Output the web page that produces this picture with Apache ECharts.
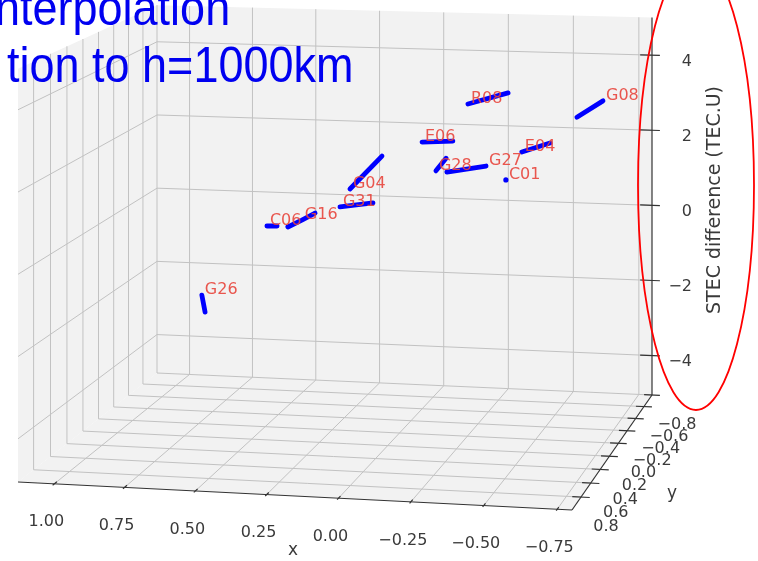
<!DOCTYPE html>
<html>
<head>
<meta charset="utf-8">
<title>STEC difference</title>
<script src="https://cdn.jsdelivr.net/npm/echarts@6/dist/echarts.min.js"></script>
<style>
  html, body { margin: 0; padding: 0; background: #fff; }
  #main { width: 758px; height: 561px; }
</style>
</head>
<body>
<div id="main"></div>
<script>
// limits of the 3d box
var xLim = [-0.8, 1.13];
var yLim = [-0.8, 0.98];
var zLim = [-5.05, 5.0];

// ticks and their labels
var xTicks = [1.0, 0.75, 0.5, 0.25, 0, -0.25, -0.5, -0.75];
var xTickLabels = ['1.00', '0.75', '0.50', '0.25', '0.00', '−0.25', '−0.50', '−0.75'];
var yTicks = [-0.8, -0.6, -0.4, -0.2, 0, 0.2, 0.4, 0.6, 0.8];
var yTickLabels = ['−0.8', '−0.6', '−0.4', '−0.2', '0.0', '0.2', '0.4', '0.6', '0.8'];
var zTicks = [-4, -2, 0, 2, 4];
var zTickLabels = ['−4', '−2', '0', '2', '4'];

// satellite tracks, points are [x, y, STEC difference]
var satNames = ['G08', 'R08', 'E06', 'E04', 'G28', 'G27', 'C01', 'G04', 'G31', 'C06', 'G16', 'G26'];
var satTracks = [
  [[-0.759, 0.09, 3.69], [-0.665, 0.09, 3.26]],
  [[-0.270, 0.09, 3.51], [-0.416, 0.09, 3.82]],
  [[-0.102, 0.09, 2.51], [-0.215, 0.09, 2.56]],
  [[-0.466, 0.09, 2.34], [-0.568, 0.09, 2.59]],
  [[-0.153, 0.09, 1.79], [-0.190, 0.09, 2.12]],
  [[-0.336, 0.09, 1.955], [-0.193, 0.09, 1.77]],
  [[-0.408, 0.09, 1.62]],
  [[0.163, 0.09, 1.255], [0.045, 0.09, 2.12]],
  [[0.200, 0.09, 0.79], [0.078, 0.09, 0.92]],
  [[0.471, 0.09, 0.235], [0.433, 0.09, 0.245]],
  [[0.393, 0.09, 0.23], [0.341, 0.09, 0.42], [0.292, 0.09, 0.61]],
  [[0.714, 0.09, -1.60], [0.702, 0.09, -2.03]]
];
// which point of each track carries the name
var satLabelAt = [0, 0, 0, 0, 0, 0, 0, 0, 0, 0, 1, 0];

// camera: where the floor corners (xmax,ymin) (xmin,ymin) (xmin,ymax) (xmax,ymax) land in the view
var floorCorners = [[157, 373], [652, 395], [572, 510], [18, 482]];
var zScale = 36.6;

// perspective map of the unit square onto the floor quad
function squareToQuad(q) {
  var x0 = q[0][0], y0 = q[0][1], x1 = q[1][0], y1 = q[1][1];
  var x2 = q[2][0], y2 = q[2][1], x3 = q[3][0], y3 = q[3][1];
  var dx1 = x1 - x2, dx2 = x3 - x2, dx3 = x0 - x1 + x2 - x3;
  var dy1 = y1 - y2, dy2 = y3 - y2, dy3 = y0 - y1 + y2 - y3;
  var det = dx1 * dy2 - dx2 * dy1;
  var g = (dx3 * dy2 - dx2 * dy3) / det;
  var h = (dx1 * dy3 - dx3 * dy1) / det;
  return { a: x1 - x0 + g * x1, b: x3 - x0 + h * x3, c: x0,
           d: y1 - y0 + g * y1, e: y3 - y0 + h * y3, f: y0, g: g, h: h };
}
var H = squareToQuad(floorCorners);

function proj(p) {
  var u = (xLim[1] - p[0]) / (xLim[1] - xLim[0]);
  var v = (p[1] - yLim[0]) / (yLim[1] - yLim[0]);
  var w = H.g * u + H.h * v + 1;
  return [(H.a * u + H.b * v + H.c) / w,
          (H.d * u + H.e * v + H.f - zScale * (p[2] - zLim[0])) / w];
}

var x0 = xLim[0], x1 = xLim[1], y0 = yLim[0], y1 = yLim[1], z0 = zLim[0], z1 = zLim[1];

// panes: floor, back wall, side wall
var panes = [
  [[x1, y0, z0], [x0, y0, z0], [x0, y1, z0], [x1, y1, z0]],
  [[x1, y0, z0], [x0, y0, z0], [x0, y0, z1], [x1, y0, z1]],
  [[x1, y0, z0], [x1, y1, z0], [x1, y1, z1], [x1, y0, z1]]
];

// grid lines on the panes
var gridSegs = [];
xTicks.forEach(function (t) {
  gridSegs.push([[t, y0, z0], [t, y1, z0]]);
  gridSegs.push([[t, y0, z0], [t, y0, z1]]);
});
yTicks.forEach(function (t) {
  gridSegs.push([[x0, t, z0], [x1, t, z0]]);
  gridSegs.push([[x1, t, z0], [x1, t, z1]]);
});
zTicks.forEach(function (t) {
  gridSegs.push([[x0, y0, t], [x1, y0, t]]);
  gridSegs.push([[x1, y0, t], [x1, y1, t]]);
});

// axis lines and tick marks
var axisSegs = [
  [[x1, y1, z0], [x0, y1, z0]],
  [[x0, y0, z0], [x0, y1, z0]],
  [[x0, y0, z0], [x0, y0, z1]]
];
xTicks.forEach(function (t) { axisSegs.push([[t, y1 - 0.03, z0], [t, y1 + 0.02, z0]]); });
yTicks.forEach(function (t) { axisSegs.push([[x0 + 0.03, t, z0], [x0 - 0.03, t, z0]]); });
zTicks.forEach(function (t) { axisSegs.push([[x0 + 0.045, y0, t], [x0 - 0.03, y0, t]]); });

// tick label texts with their anchor and shift
var tickTexts = [];
xTicks.forEach(function (t, i) {
  tickTexts.push({ p: [t, y1, z0], dx: -8, dy: 38.5, text: xTickLabels[i], align: 'center' });
});
yTicks.forEach(function (t, i) {
  tickTexts.push({ p: [x0, t, z0], dx: 25, dy: 30, text: yTickLabels[i], align: 'center' });
});
zTicks.forEach(function (t, i) {
  tickTexts.push({ p: [x0, y0, t], dx: 40, dy: 6.7, text: zTickLabels[i], align: 'right' });
});

function idx(arr) { return arr.map(function (d, i) { return [i, 0]; }); }

var chart = echarts.init(document.getElementById('main'));

var option = {
  animation: false,
  backgroundColor: '#fff',
  grid: { left: 0, right: 0, top: 0, bottom: 0 },
  xAxis: { type: 'value', min: 0, max: 758, show: false },
  yAxis: { type: 'value', min: 0, max: 561, inverse: true, show: false },
  series: [
    {
      type: 'custom', z: 1, silent: true, data: idx(panes),
      renderItem: function (params, api) {
        var pts = panes[params.dataIndex].map(function (p) { return api.coord(proj(p)); });
        return { type: 'polygon', shape: { points: pts }, style: { fill: '#f2f2f2' } };
      }
    },
    {
      type: 'custom', z: 2, silent: true, data: idx(gridSegs),
      renderItem: function (params, api) {
        var s = gridSegs[params.dataIndex];
        var a = api.coord(proj(s[0])), b = api.coord(proj(s[1]));
        return { type: 'line', shape: { x1: a[0], y1: a[1], x2: b[0], y2: b[1] },
                 style: { stroke: '#c2c2c2', lineWidth: 1 } };
      }
    },
    {
      type: 'custom', z: 3, silent: true, data: idx(axisSegs),
      renderItem: function (params, api) {
        var s = axisSegs[params.dataIndex];
        var a = api.coord(proj(s[0])), b = api.coord(proj(s[1]));
        return { type: 'line', shape: { x1: a[0], y1: a[1], x2: b[0], y2: b[1] },
                 style: { stroke: '#333', lineWidth: 1.2 } };
      }
    },
    {
      type: 'custom', z: 4, silent: true, data: idx(tickTexts),
      renderItem: function (params, api) {
        var t = tickTexts[params.dataIndex];
        var c = api.coord(proj(t.p));
        return { type: 'text', x: c[0] + t.dx, y: c[1] + t.dy,
                 style: { text: t.text, font: '16px "DejaVu Sans"', fill: '#3a3a3a',
                          align: t.align, verticalAlign: 'middle' } };
      }
    },
    {
      type: 'custom', z: 5, silent: true, data: idx(satTracks),
      renderItem: function (params, api) {
        var tr = satTracks[params.dataIndex];
        var pts = tr.map(function (p) { return api.coord(proj(p)); });
        if (pts.length === 1) {
          return { type: 'circle', shape: { cx: pts[0][0], cy: pts[0][1], r: 2.6 },
                   style: { fill: '#0000ff' } };
        }
        return { type: 'polyline', shape: { points: pts },
                 style: { stroke: '#0000ff', lineWidth: 4.8, lineCap: 'round', lineJoin: 'round', fill: null } };
      }
    },
    {
      type: 'custom', z: 6, silent: true, data: idx(satNames),
      renderItem: function (params, api) {
        var i = params.dataIndex;
        var c = api.coord(proj(satTracks[i][satLabelAt[i]]));
        return { type: 'text', x: c[0] + 3, y: c[1] - 5.5,
                 style: { text: satNames[i], font: '16px "DejaVu Sans"', fill: '#e8453c',
                          opacity: 0.9, align: 'left', verticalAlign: 'middle' } };
      }
    }
  ],
  graphic: [
    { type: 'text', z: 20, x: 293, y: 551,
      style: { text: 'x', font: '17px "DejaVu Sans"', fill: '#3a3a3a', align: 'center', verticalAlign: 'middle' } },
    { type: 'text', z: 20, x: 672, y: 494,
      style: { text: 'y', font: '17px "DejaVu Sans"', fill: '#3a3a3a', align: 'center', verticalAlign: 'middle' } },
    { type: 'text', z: 20, x: 715, y: 200, rotation: Math.PI / 2,
      style: { text: 'STEC difference (TEC.U)', font: '19px "DejaVu Sans"', fill: '#3a3a3a', align: 'center', verticalAlign: 'middle' } },
    { type: 'text', z: 30, x: -5, y: 11, scaleY: 1.12,
      style: { text: 'nterpolation', font: '45px "Liberation Sans"', fill: '#0000f0', align: 'left', verticalAlign: 'middle' } },
    { type: 'text', z: 30, x: 7, y: 68, scaleY: 1.12,
      style: { text: 'tion to h=1000km', font: '45px "Liberation Sans"', fill: '#0000f0', align: 'left', verticalAlign: 'middle' } },
    { type: 'ellipse', z: 30, shape: { cx: 696, cy: 185, rx: 58, ry: 225 },
      style: { fill: 'none', stroke: '#ff0000', lineWidth: 1.8 } }
  ]
};

chart.setOption(option);
</script>
</body>
</html>
